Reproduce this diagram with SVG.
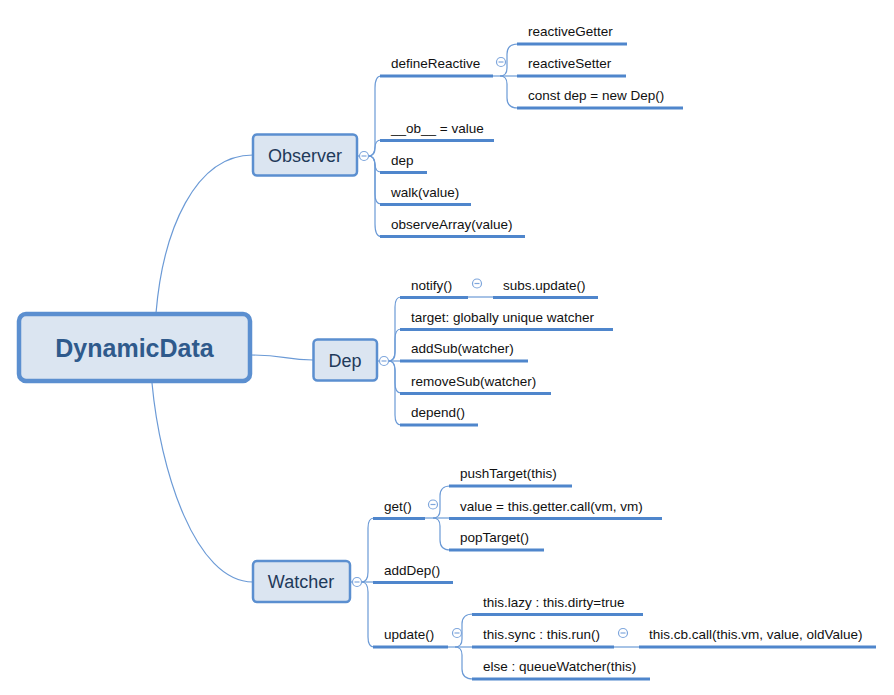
<svg xmlns="http://www.w3.org/2000/svg" width="894" height="695" viewBox="0 0 894 695">
<style>
.bg{fill:#ffffff}
.ln{fill:none;stroke:#6b9ad6;stroke-width:1.2}
.ul{fill:none;stroke:#4f86cc;stroke-width:3}
.node rect{fill:#dbe5f1;stroke:#5b8fd0;stroke-width:2.5}
.ntx{font-family:"Liberation Sans",Arial,sans-serif;font-size:18px;fill:#1f3a5a;text-anchor:middle;dominant-baseline:central}
.tx{font-family:"Liberation Sans",Arial,sans-serif;font-size:13.5px;fill:#111111}
.col circle{fill:#ffffff;stroke:#7ea6dc;stroke-width:1.2}
.col line{stroke:#7ea6dc;stroke-width:1.2}
</style>
<rect class="bg" x="0" y="0" width="894" height="695"/>
<g id="connectors">
  <path class="ln" d="M156,313 C163,230 195,155 253,155"/>
  <path class="ln" d="M251,355 C285,355 285,360 313,360"/>
  <path class="ln" d="M152,383 C160,470 195,582 253,582"/>
  <!-- Observer -->
  <path class="ln" d="M357,156 H360"/>
  <path class="ln" d="M368.5,156 Q375,156 375,146 V88 Q375,76 381,76"/>
  <path class="ln" d="M368.5,156 Q375,156 375,148 Q375,140 381,140"/>
  <path class="ln" d="M368.5,156 Q375,156 375,164 Q375,172 381,172"/>
  <path class="ln" d="M368.5,156 Q375,156 375,166 V194 Q375,204 381,204"/>
  <path class="ln" d="M368.5,156 Q375,156 375,166 V224 Q375,236.5 381,236.5"/>
  <!-- defineReactive -->
  <path class="ln" d="M493,76 H518"/>
  <path class="ln" d="M500,76 Q507,76 507,68 V54 Q507,44 518,44"/>
  <path class="ln" d="M500,76 Q507,76 507,84 V98 Q507,108 518,108"/>
  <!-- Dep -->
  <path class="ln" d="M377,361 H380"/>
  <path class="ln" d="M388.5,361 Q395,361 395,351 V307 Q395,297 401,297"/>
  <path class="ln" d="M388.5,361 Q395,361 395,353 V339 Q395,329 401,329"/>
  <path class="ln" d="M388.5,361 H401"/>
  <path class="ln" d="M388.5,361 Q395,361 395,369 V383 Q395,393 401,393"/>
  <path class="ln" d="M388.5,361 Q395,361 395,371 V415 Q395,425 401,425"/>
  <path class="ln" d="M468,297 H494"/>
  <!-- Watcher -->
  <path class="ln" d="M350,582 H353"/>
  <path class="ln" d="M361.5,582 Q368,582 368,572 V528 Q368,518 374,518"/>
  <path class="ln" d="M361.5,582 H374"/>
  <path class="ln" d="M361.5,582 Q368,582 368,592 V637 Q368,647 374,647"/>
  <!-- get() -->
  <path class="ln" d="M425,518 H450"/>
  <path class="ln" d="M433,518 Q440,518 440,510 V496 Q440,486 450,486"/>
  <path class="ln" d="M433,518 Q440,518 440,526 V540 Q440,550 450,550"/>
  <!-- update() -->
  <path class="ln" d="M448,647 H473"/>
  <path class="ln" d="M455,647 Q462,647 462,639 V624 Q462,614 473,614"/>
  <path class="ln" d="M455,647 Q462,647 462,655 V669 Q462,679 473,679"/>
  <path class="ln" d="M614,647 H640"/>
</g>
<g id="DynamicData" class="node">
  <rect x="19" y="314" width="231" height="67" rx="7" style="stroke-width:4.5"/>
  <text x="134.5" y="348" style="font-family:'Liberation Sans',Arial,sans-serif;font-size:25px;font-weight:bold;fill:#2f5a8c;text-anchor:middle;dominant-baseline:central">DynamicData</text>
</g>
<g id="Observer" class="node">
  <rect x="253" y="134.5" width="104" height="41" rx="4"/>
  <text class="ntx" x="305" y="155.5">Observer</text>
</g>
<g id="Dep" class="node">
  <rect x="313.5" y="339.5" width="63.5" height="41" rx="4"/>
  <text class="ntx" x="345" y="360.5">Dep</text>
</g>
<g id="Watcher" class="node">
  <rect x="253" y="561" width="97" height="41" rx="4"/>
  <text class="ntx" x="301" y="582">Watcher</text>
</g>
<g id="collapse" class="col">
  <circle cx="364" cy="156" r="4.5"/><line x1="361.5" y1="156" x2="366.5" y2="156"/>
  <circle cx="501" cy="62" r="4.5"/><line x1="498.5" y1="62" x2="503.5" y2="62"/>
  <circle cx="384" cy="361" r="4.5"/><line x1="381.5" y1="361" x2="386.5" y2="361"/>
  <circle cx="477" cy="283.5" r="4.5"/><line x1="474.5" y1="283.5" x2="479.5" y2="283.5"/>
  <circle cx="357" cy="582" r="4.5"/><line x1="354.5" y1="582" x2="359.5" y2="582"/>
  <circle cx="433" cy="504.5" r="4.5"/><line x1="430.5" y1="504.5" x2="435.5" y2="504.5"/>
  <circle cx="457" cy="633" r="4.5"/><line x1="454.5" y1="633" x2="459.5" y2="633"/>
  <circle cx="623" cy="633" r="4.5"/><line x1="620.5" y1="633" x2="625.5" y2="633"/>
</g>
<g id="defineReactive"><line class="ul" x1="380" y1="76" x2="493" y2="76"/><text class="tx" x="391" y="68">defineReactive</text></g>
<g id="reactiveGetter"><line class="ul" x1="517" y1="44" x2="627" y2="44"/><text class="tx" x="528" y="36">reactiveGetter</text></g>
<g id="reactiveSetter"><line class="ul" x1="517" y1="76" x2="626" y2="76"/><text class="tx" x="528" y="68">reactiveSetter</text></g>
<g id="constDep"><line class="ul" x1="517" y1="108" x2="683" y2="108"/><text class="tx" x="528" y="100">const dep = new Dep()</text></g>
<g id="ob"><line class="ul" x1="380" y1="140.5" x2="494" y2="140.5"/><text class="tx" x="391" y="132.5">__ob__ = value</text></g>
<g id="depProp"><line class="ul" x1="380" y1="172.5" x2="427" y2="172.5"/><text class="tx" x="391" y="164.5">dep</text></g>
<g id="walk"><line class="ul" x1="380" y1="204.5" x2="471" y2="204.5"/><text class="tx" x="391" y="196.5">walk(value)</text></g>
<g id="observeArray"><line class="ul" x1="380" y1="236.5" x2="525" y2="236.5"/><text class="tx" x="391" y="228.5">observeArray(value)</text></g>
<g id="notify"><line class="ul" x1="400" y1="297.5" x2="468" y2="297.5"/><text class="tx" x="411" y="289.5">notify()</text></g>
<g id="subsUpdate"><line class="ul" x1="493" y1="297.5" x2="598" y2="297.5"/><text class="tx" x="503" y="289.5">subs.update()</text></g>
<g id="target"><line class="ul" x1="400" y1="329.5" x2="613" y2="329.5"/><text class="tx" x="411" y="321.5">target: globally unique watcher</text></g>
<g id="addSub"><line class="ul" x1="400" y1="361" x2="528" y2="361"/><text class="tx" x="411" y="353">addSub(watcher)</text></g>
<g id="removeSub"><line class="ul" x1="400" y1="393.5" x2="551" y2="393.5"/><text class="tx" x="411" y="385.5">removeSub(watcher)</text></g>
<g id="depend"><line class="ul" x1="400" y1="425" x2="478" y2="425"/><text class="tx" x="411" y="417">depend()</text></g>
<g id="get"><line class="ul" x1="373" y1="518.5" x2="425" y2="518.5"/><text class="tx" x="384" y="510.5">get()</text></g>
<g id="pushTarget"><line class="ul" x1="449" y1="486" x2="572" y2="486"/><text class="tx" x="460" y="478">pushTarget(this)</text></g>
<g id="getterCall"><line class="ul" x1="449" y1="518.5" x2="662" y2="518.5"/><text class="tx" x="460" y="510.5">value = this.getter.call(vm, vm)</text></g>
<g id="popTarget"><line class="ul" x1="449" y1="550" x2="544" y2="550"/><text class="tx" x="460" y="542">popTarget()</text></g>
<g id="addDep"><line class="ul" x1="373" y1="582.5" x2="453" y2="582.5"/><text class="tx" x="384" y="574.5">addDep()</text></g>
<g id="update"><line class="ul" x1="373" y1="647" x2="448" y2="647"/><text class="tx" x="384" y="639">update()</text></g>
<g id="lazy"><line class="ul" x1="472" y1="614.5" x2="643" y2="614.5"/><text class="tx" x="483" y="606.5">this.lazy : this.dirty=true</text></g>
<g id="sync"><line class="ul" x1="472" y1="647" x2="614" y2="647"/><text class="tx" x="483" y="639">this.sync : this.run()</text></g>
<g id="cbCall"><line class="ul" x1="639" y1="647" x2="876" y2="647"/><text class="tx" x="649" y="639">this.cb.call(this.vm, value, oldValue)</text></g>
<g id="queueWatcher"><line class="ul" x1="472" y1="679" x2="650" y2="679"/><text class="tx" x="483" y="671">else : queueWatcher(this)</text></g>
</svg>
